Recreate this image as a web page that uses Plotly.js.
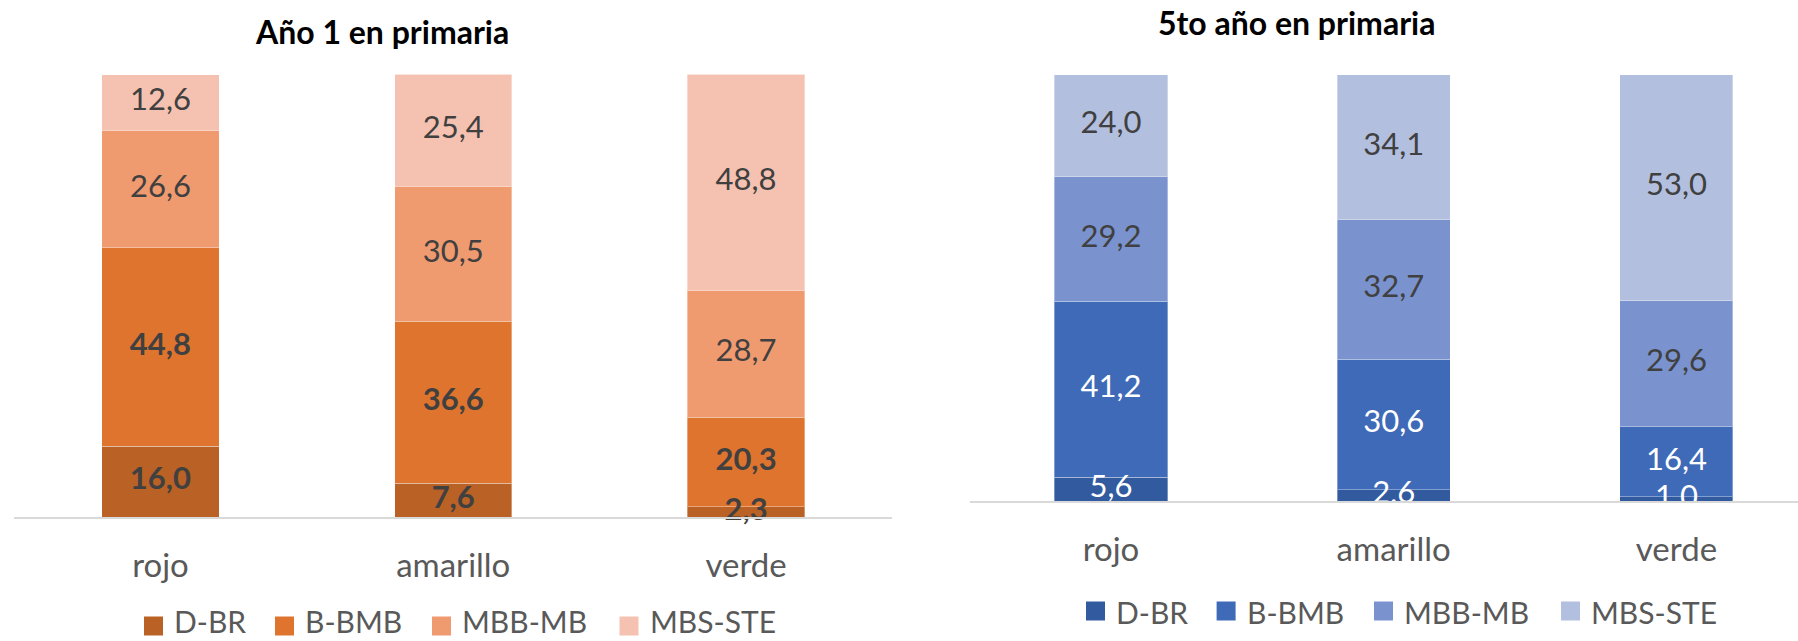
<!DOCTYPE html>
<html>
<head>
<meta charset="utf-8">
<script src="https://cdn.plot.ly/plotly-3.0.1.min.js"></script>
<style>
  html, body { margin: 0; padding: 0; background: #ffffff; }
  #chart { width: 1798px; height: 641px; }
</style>
</head>
<body>
<div id="chart"></div>
<script>
// ---------------- DATA ----------------
const categories = ['rojo', 'amarillo', 'verde'];
const seriesNames = ['D-BR', 'B-BMB', 'MBB-MB', 'MBS-STE'];
const chartTitles = ['Año 1 en primaria', '5to año en primaria'];

// Año 1 en primaria
const year1_DBR    = [16.0, 7.6, 2.3];
const year1_BBMB   = [44.8, 36.6, 20.3];
const year1_MBBMB  = [26.6, 30.5, 28.7];
const year1_MBSSTE = [12.6, 25.4, 48.8];

// 5to año en primaria
const year5_DBR    = [5.6, 2.6, 1.0];
const year5_BBMB   = [41.2, 30.6, 16.4];
const year5_MBBMB  = [29.2, 32.7, 29.6];
const year5_MBSSTE = [24.0, 34.1, 53.0];

// ---------------- STYLE ----------------
const W = 1798, H = 641;
const FONT = 'Lato, "Open Sans", sans-serif';
const orangeColors = ['#BA6125', '#DE742E', '#F09A70', '#F5C2B1'];
const blueColors   = ['#325A9E', '#3F6AB8', '#7A93CF', '#B3BFDF'];
const labelColorsLeft  = ['#404040', '#404040', '#404040', '#404040'];
const labelWeightsLeft = [700, 700, 400, 400];
const labelColorsRight = ['#ffffff', '#ffffff', '#404040', '#404040'];
const labelWeightsRight = [400, 400, 400, 400];

const px = x => x / W;
const py = y => 1 - y / H;

const charts = [
  { series: [year1_DBR, year1_BBMB, year1_MBBMB, year1_MBSSTE], colors: orangeColors,
    labelColors: labelColorsLeft, labelWeights: labelWeightsLeft, xa: 'x', ya: 'y', clip: false,
    legendX: [144, 275, 432, 619.5], legendY: 626, textBottom: true, titleX: 382, titleY: 31 },
  { series: [year5_DBR, year5_BBMB, year5_MBBMB, year5_MBSSTE], colors: blueColors,
    labelColors: labelColorsRight, labelWeights: labelWeightsRight, xa: 'x2', ya: 'y2', clip: true,
    legendX: [1086, 1216.6, 1374, 1561], legendY: 611, textBottom: false, titleX: 1296, titleY: 22 }
];

const fmt = v => v.toFixed(1).replace('.', ',');

const traces = [];
const shapes = [];
const annotations = [];
const SQ = 19;

charts.forEach((c, k) => {
  // bars
  c.series.forEach((vals, i) => {
    traces.push({
      type: 'bar', x: categories, y: vals, name: seriesNames[i],
      xaxis: c.xa, yaxis: c.ya, width: 0.4, showlegend: false,
      marker: { color: c.colors[i], line: { color: 'rgba(255,255,255,0.35)', width: 1 } },
      hoverinfo: 'skip'
    });
  });
  // data labels (centered in each stacked segment)
  const cum = categories.map(() => 0);
  c.series.forEach((vals, i) => {
    const mids = vals.map((v, j) => cum[j] + v / 2);
    vals.forEach((v, j) => { cum[j] += v; });
    traces.push({
      type: 'scatter', mode: 'text', x: categories, y: mids, text: vals.map(fmt),
      xaxis: c.xa, yaxis: c.ya, showlegend: false, cliponaxis: c.clip, hoverinfo: 'skip',
      textposition: 'middle center',
      textfont: { family: FONT, size: 31, color: c.labelColors[i], weight: c.labelWeights[i] }
    });
  });
  // legend (squares + names)
  seriesNames.forEach((name, i) => {
    const x0 = c.legendX[i];
    shapes.push({ type: 'rect', xref: 'paper', yref: 'paper',
      x0: px(x0), x1: px(x0 + SQ), y0: py(c.legendY + SQ / 2), y1: py(c.legendY - SQ / 2),
      fillcolor: c.colors[i], line: { width: 0 } });
    const ann = { xref: 'paper', yref: 'paper', x: px(x0 + SQ + 9),
      xanchor: 'left', showarrow: false, text: name,
      font: { family: FONT, size: 30, color: '#595959' } };
    if (c.textBottom) { ann.y = 0; ann.yanchor = 'bottom'; }
    else { ann.y = py(c.legendY + 1); ann.yanchor = 'middle'; }
    annotations.push(ann);
  });
  // title
  annotations.push({ xref: 'paper', yref: 'paper', x: px(c.titleX), y: py(c.titleY),
    xanchor: 'center', yanchor: 'middle', showarrow: false, text: chartTitles[k],
    font: { family: FONT, size: 32, color: '#000000', weight: 700 } });
});

const xCommon = {
  type: 'category', showline: true, linecolor: '#D9D9D9', linewidth: 2,
  ticks: '', showgrid: false, zeroline: false, fixedrange: true,
  tickfont: { family: FONT, size: 33, color: '#595959' }, ticklabelstandoff: 18
};
const yCommon = { range: [0, 100], visible: false, showgrid: false, zeroline: false, fixedrange: true };

const layout = {
  width: W, height: H,
  margin: { l: 0, r: 0, t: 0, b: 0, pad: 0 },
  paper_bgcolor: '#ffffff', plot_bgcolor: '#ffffff',
  barmode: 'stack', showlegend: false,
  font: { family: FONT },
  xaxis:  Object.assign({}, xCommon, { domain: [px(14.1), px(892.4)], range: [-0.5, 2.5], anchor: 'y' }),
  yaxis:  Object.assign({}, yCommon, { domain: [py(517), py(74.5)], anchor: 'x' }),
  xaxis2: Object.assign({}, xCommon, { domain: [px(969.6), 1], range: [-0.5, 2.43], anchor: 'y2' }),
  yaxis2: Object.assign({}, yCommon, { domain: [py(501), py(74.5)], anchor: 'x2' }),
  shapes: shapes,
  annotations: annotations
};

Plotly.newPlot('chart', traces, layout, { displayModeBar: false, staticPlot: true });
</script>
</body>
</html>
